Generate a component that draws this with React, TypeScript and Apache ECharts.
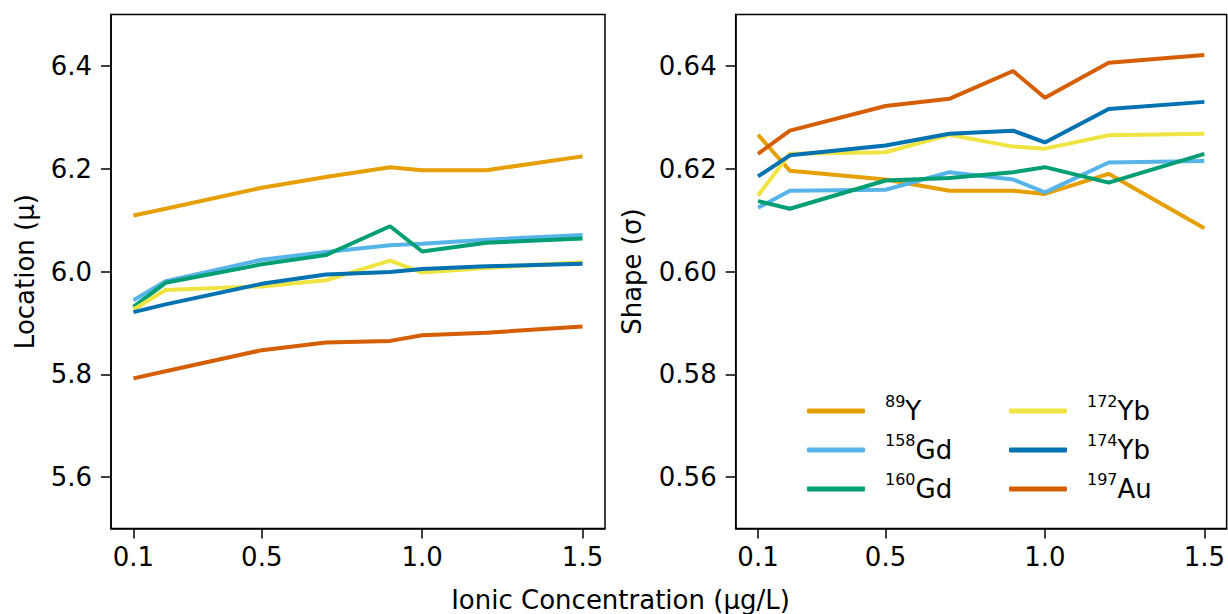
import React, { useEffect, useRef } from "react";
import * as echarts from "echarts";

const X = [0.1, 0.2, 0.5, 0.7, 0.9, 1.0, 1.2, 1.5];
const MASS = ["89", "158", "160", "172", "174", "197"];
const ELEM = ["Y", "Gd", "Gd", "Yb", "Yb", "Au"];
const COLORS = ["#E69F00", "#56B4E9", "#009E73", "#F0E442", "#0072B2", "#D55E00"];

const LOC_Y = [6.109, 6.122, 6.163, 6.184, 6.203, 6.197, 6.197, 6.224];
const LOC_GD158 = [5.944, 5.981, 6.023, 6.038, 6.051, 6.054, 6.062, 6.071];
const LOC_GD160 = [5.931, 5.978, 6.014, 6.032, 6.088, 6.039, 6.056, 6.064];
const LOC_YB172 = [5.926, 5.964, 5.971, 5.983, 6.021, 5.998, 6.007, 6.018];
const LOC_YB174 = [5.921, 5.936, 5.976, 5.994, 5.999, 6.005, 6.010, 6.015];
const LOC_AU = [5.792, 5.806, 5.847, 5.862, 5.865, 5.876, 5.881, 5.893];

const SH_Y = [0.6266, 0.6196, 0.6179, 0.6157, 0.6157, 0.6151, 0.619, 0.6084];
const SH_GD158 = [0.6124, 0.6157, 0.6159, 0.6193, 0.6179, 0.6154, 0.6212, 0.6215];
const SH_GD160 = [0.6137, 0.6122, 0.6177, 0.6182, 0.6193, 0.6203, 0.6173, 0.6229];
const SH_YB172 = [0.6148, 0.6229, 0.6232, 0.6266, 0.6243, 0.6239, 0.6265, 0.6268];
const SH_YB174 = [0.6185, 0.6226, 0.6245, 0.6268, 0.6274, 0.6251, 0.6316, 0.633];
const SH_AU = [0.6229, 0.6274, 0.6322, 0.6336, 0.639, 0.6338, 0.6406, 0.6421];

const X_TICKS = [0.1, 0.5, 1.0, 1.5];
const LOC_TICKS = [5.6, 5.8, 6.0, 6.2, 6.4];
const SH_TICKS = [0.56, 0.58, 0.6, 0.62, 0.64];

const LOC = [LOC_Y, LOC_GD158, LOC_GD160, LOC_YB172, LOC_YB174, LOC_AU];
const SH = [SH_Y, SH_GD158, SH_GD160, SH_YB172, SH_YB174, SH_AU];

const FONT = "DejaVu Sans";

export default function App() {
  const ref = useRef<HTMLDivElement>(null);
  useEffect(() => {
    if (!ref.current) return;
    const chart = echarts.init(ref.current, null, { renderer: "svg" });
    const names = MASS.map((m, i) => m + ELEM[i]);

    const xAxisFor = (gi: number) => ({
      type: "value",
      gridIndex: gi,
      min: 0.03,
      max: 1.57,
      splitLine: { show: false },
      axisLine: { show: true, lineStyle: { color: "#000", width: 1.5 } },
      axisTick: { show: true, length: 10, customValues: X_TICKS, lineStyle: { color: "#000", width: 1.5 } },
      axisLabel: {
        customValues: X_TICKS,
        formatter: (v: number) => v.toFixed(1),
        fontFamily: FONT,
        fontSize: 26,
        color: "#000",
        margin: 15,
      },
    });
    const yAxisFor = (gi: number, min: number, max: number, ticks: number[], dec: number) => ({
      type: "value",
      gridIndex: gi,
      min,
      max,
      splitLine: { show: false },
      axisLine: { show: true, lineStyle: { color: "#000", width: 1.5 } },
      axisTick: { show: true, length: 10, customValues: ticks, lineStyle: { color: "#000", width: 1.5 } },
      axisLabel: {
        customValues: ticks,
        formatter: (v: number) => v.toFixed(dec),
        fontFamily: FONT,
        fontSize: 26,
        color: "#000",
        margin: 19,
      },
    });

    const series: any[] = [];
    [LOC, SH].forEach((set, gi) => {
      set.forEach((vals, i) => {
        series.push({
          type: "line",
          name: names[i],
          xAxisIndex: gi,
          yAxisIndex: gi,
          data: X.map((x, k) => [x, vals[k]]),
          symbol: "none",
          lineStyle: { color: COLORS[i], width: 4 },
          itemStyle: { color: COLORS[i] },
          z: 2 + i,
        });
      });
    });

    const legendBase = {
      orient: "vertical",
      padding: 0,
      itemWidth: 58,
      itemHeight: 5,
      itemGap: 3,
      icon: "roundRect",
      formatter: (name: string) => {
        const i = names.indexOf(name);
        return `{sp|}{sup|${MASS[i]}}{el|${ELEM[i]}}`;
      },
      textStyle: {
        color: "#000",
        fontFamily: FONT,
        fontSize: 26,
        lineHeight: 36,
        rich: {
          sp: { width: 15, fontSize: 26, lineHeight: 36 },
          sup: { fontFamily: FONT, fontSize: 16, lineHeight: 16, verticalAlign: "top", color: "#000" },
          el: { fontFamily: FONT, fontSize: 26, lineHeight: 36, verticalAlign: "middle", color: "#000" },
        },
      },
      selectedMode: false,
    };

    chart.setOption({
      animation: false,
      backgroundColor: "#fff",
      grid: [
        { left: 111, top: 14.5, width: 494, height: 514, show: true, borderColor: "#000", borderWidth: 1.5, backgroundColor: "transparent" },
        { left: 735.7, top: 14.5, width: 494, height: 514, show: true, borderColor: "#000", borderWidth: 1.5, backgroundColor: "transparent" },
      ],
      xAxis: [xAxisFor(0), xAxisFor(1)],
      yAxis: [yAxisFor(0, 5.5, 6.5, LOC_TICKS, 1), yAxisFor(1, 0.55, 0.65, SH_TICKS, 2)],
      legend: [
        { ...legendBase, left: 807, top: 393, data: names.slice(0, 3) },
        { ...legendBase, left: 1009, top: 393, data: names.slice(3, 6) },
      ],
      graphic: [
        {
          type: "text",
          x: 25,
          y: 271.6,
          rotation: Math.PI / 2,
          style: { text: "Location (μ)", font: `26px "${FONT}"`, fill: "#000", align: "center", verticalAlign: "middle" },
        },
        {
          type: "text",
          x: 632,
          y: 271.6,
          rotation: Math.PI / 2,
          style: { text: "Shape (σ)", font: `26px "${FONT}"`, fill: "#000", align: "center", verticalAlign: "middle" },
        },
        {
          type: "text",
          x: 620.5,
          y: 600,
          style: { text: "Ionic Concentration (μg/L)", font: `26px "${FONT}"`, fill: "#000", align: "center", verticalAlign: "middle" },
        },
      ],
      series,
    });
    return () => chart.dispose();
  }, []);
  return (
    <div
      ref={ref}
      style={{ position: "fixed", left: 0, top: 0, width: 1228, height: 614, background: "#fff" }}
    />
  );
}
